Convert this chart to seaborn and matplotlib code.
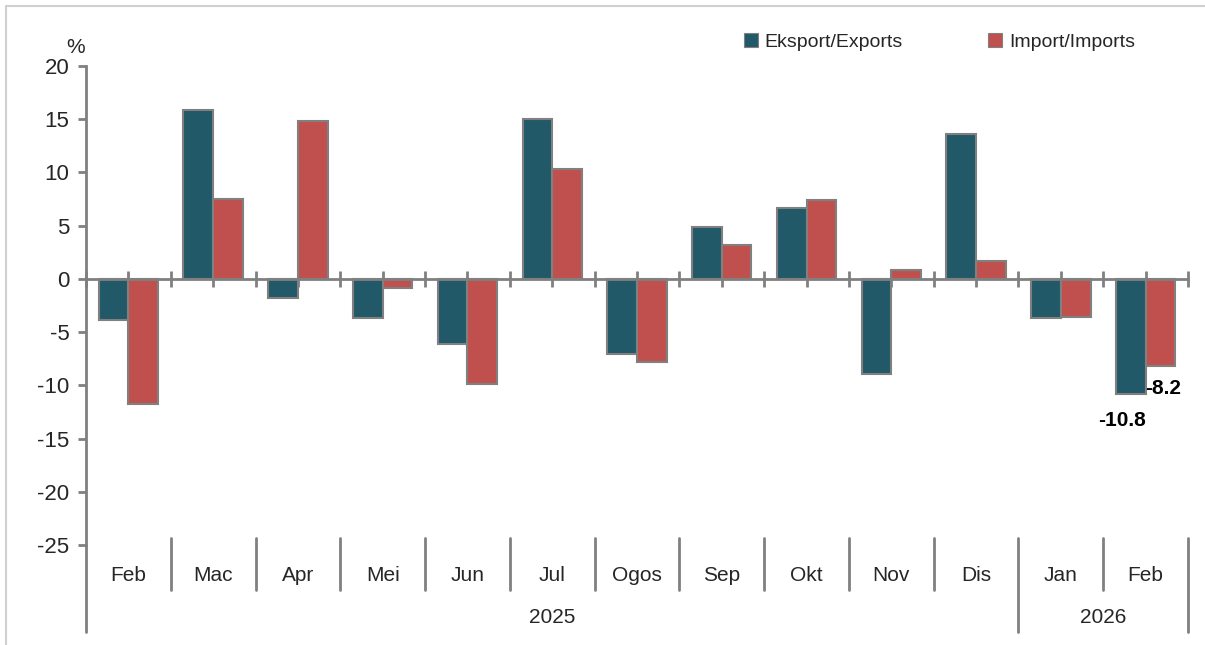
import pandas as pd
import matplotlib
matplotlib.use('Agg')
import matplotlib.pyplot as plt
import matplotlib.transforms as mtransforms
from matplotlib.patches import Patch
import seaborn as sns

months = ['Feb', 'Mac', 'Apr', 'Mei', 'Jun', 'Jul', 'Ogos', 'Sep', 'Okt', 'Nov', 'Dis', 'Jan', 'Feb']
years = ['2025'] * 11 + ['2026'] * 2
exports = [-3.9, 15.9, -1.8, -3.7, -6.1, 15.0, -7.1, 4.9, 6.7, -8.9, 13.6, -3.7, -10.8]
imports = [-11.8, 7.5, 14.8, -0.9, -9.9, 10.3, -7.8, 3.2, 7.4, 0.8, 1.7, -3.6, -8.2]
series = ['Eksport/Exports', 'Import/Imports']
colors = ['#215968', '#C0504D']

periods = [f'{m} {y}' for m, y in zip(months, years)]
df = pd.concat([
    pd.DataFrame({'period': periods, 'value': exports, 'series': series[0]}),
    pd.DataFrame({'period': periods, 'value': imports, 'series': series[1]}),
])

sns.set_style('white')
plt.rcParams['font.family'] = ['Liberation Sans', 'DejaVu Sans']
plt.rcParams['axes.unicode_minus'] = False
grey = '#808080'
txt = '#262626'

fig = plt.figure(figsize=(12.05, 6.45), dpi=100)
ax = fig.add_axes([86 / 1205, 1 - 545 / 645, (1188 - 86) / 1205, (545 - 66) / 645])

sns.barplot(data=df, x='period', y='value', hue='series', order=periods,
            palette=colors, saturation=1, width=0.7, edgecolor=grey, linewidth=1.5,
            legend=False, ax=ax)

ax.set_xlim(-0.5, len(periods) - 0.5)
ax.set_ylim(-25, 20)
ax.set_yticks(range(-25, 21, 5))
ax.set_xlabel('')
ax.set_ylabel('')
ax.set_axisbelow(True)

for s in ['top', 'right']:
    ax.spines[s].set_visible(False)
ax.spines['bottom'].set_position(('data', 0))
ax.spines['bottom'].set_color(grey)
ax.spines['bottom'].set_linewidth(2)
ax.spines['left'].set_color(grey)
ax.spines['left'].set_linewidth(2)

ax.set_xticks([i * 0.5 - 0.5 for i in range(2 * len(periods) + 1)])
ax.set_xticklabels([])
ax.tick_params(axis='x', direction='inout', length=12, width=2, color=grey, bottom=True)
ax.tick_params(axis='y', direction='out', length=6, width=2, color=grey, left=True,
               labelsize=16, labelcolor=txt, pad=6)

# category labels below the plot
trans = mtransforms.blended_transform_factory(ax.transData, ax.transAxes)
for i, m in enumerate(months):
    ax.text(i, -0.063, m, transform=trans, ha='center', va='center', fontsize=15, color=txt)
for i in range(1, len(periods)):
    bottom = -0.182 if years[i] != years[i - 1] else -0.094
    ax.plot([i - 0.5, i - 0.5], [0.0146, bottom], transform=trans, color=grey,
            lw=2, clip_on=False)
ax.plot([-0.5, -0.5], [0, -0.182], transform=trans, color=grey, lw=2, clip_on=False)
ax.plot([len(periods) - 0.5] * 2, [0.0146, -0.182], transform=trans, color=grey,
        lw=2, clip_on=False)

year_names = ['2025', '2026']
for y in year_names:
    idx = [i for i, v in enumerate(years) if v == y]
    ax.text((idx[0] + idx[-1]) / 2, -0.152, y, transform=trans, ha='center',
            va='center', fontsize=15, color=txt)

ax.text(-0.62, 20.8, '%', ha='center', va='bottom', fontsize=15, color=txt)

# value labels for the latest month
last = len(periods) - 1
ax.text(last - 0.28, exports[-1] - 1.6, f'{exports[-1]:.1f}', ha='center', va='top',
        fontsize=15, fontweight='bold', color='black')
ax.text(last - 0.01, imports[-1] - 1.2, f'{imports[-1]:.1f}', ha='left', va='top',
        fontsize=15, fontweight='bold', color='black')

handles = [Patch(facecolor=c, edgecolor=grey, linewidth=0.8) for c in colors]
fig.legend(handles, series, loc='center left', bbox_to_anchor=(0.603, 0.935),
           ncol=2, frameon=False, fontsize=14, handlelength=0.7, handleheight=0.7,
           handletextpad=0.35, columnspacing=4.4, labelcolor=txt)

# light frame around the chart
fig.add_artist(plt.Line2D([6 / 1205, 1], [1 - 6 / 645] * 2, color='#d0d0d0', lw=1.5))
fig.add_artist(plt.Line2D([6 / 1205] * 2, [0, 1 - 6 / 645], color='#d0d0d0', lw=1.5))

plt.savefig('out.png', dpi=100)
